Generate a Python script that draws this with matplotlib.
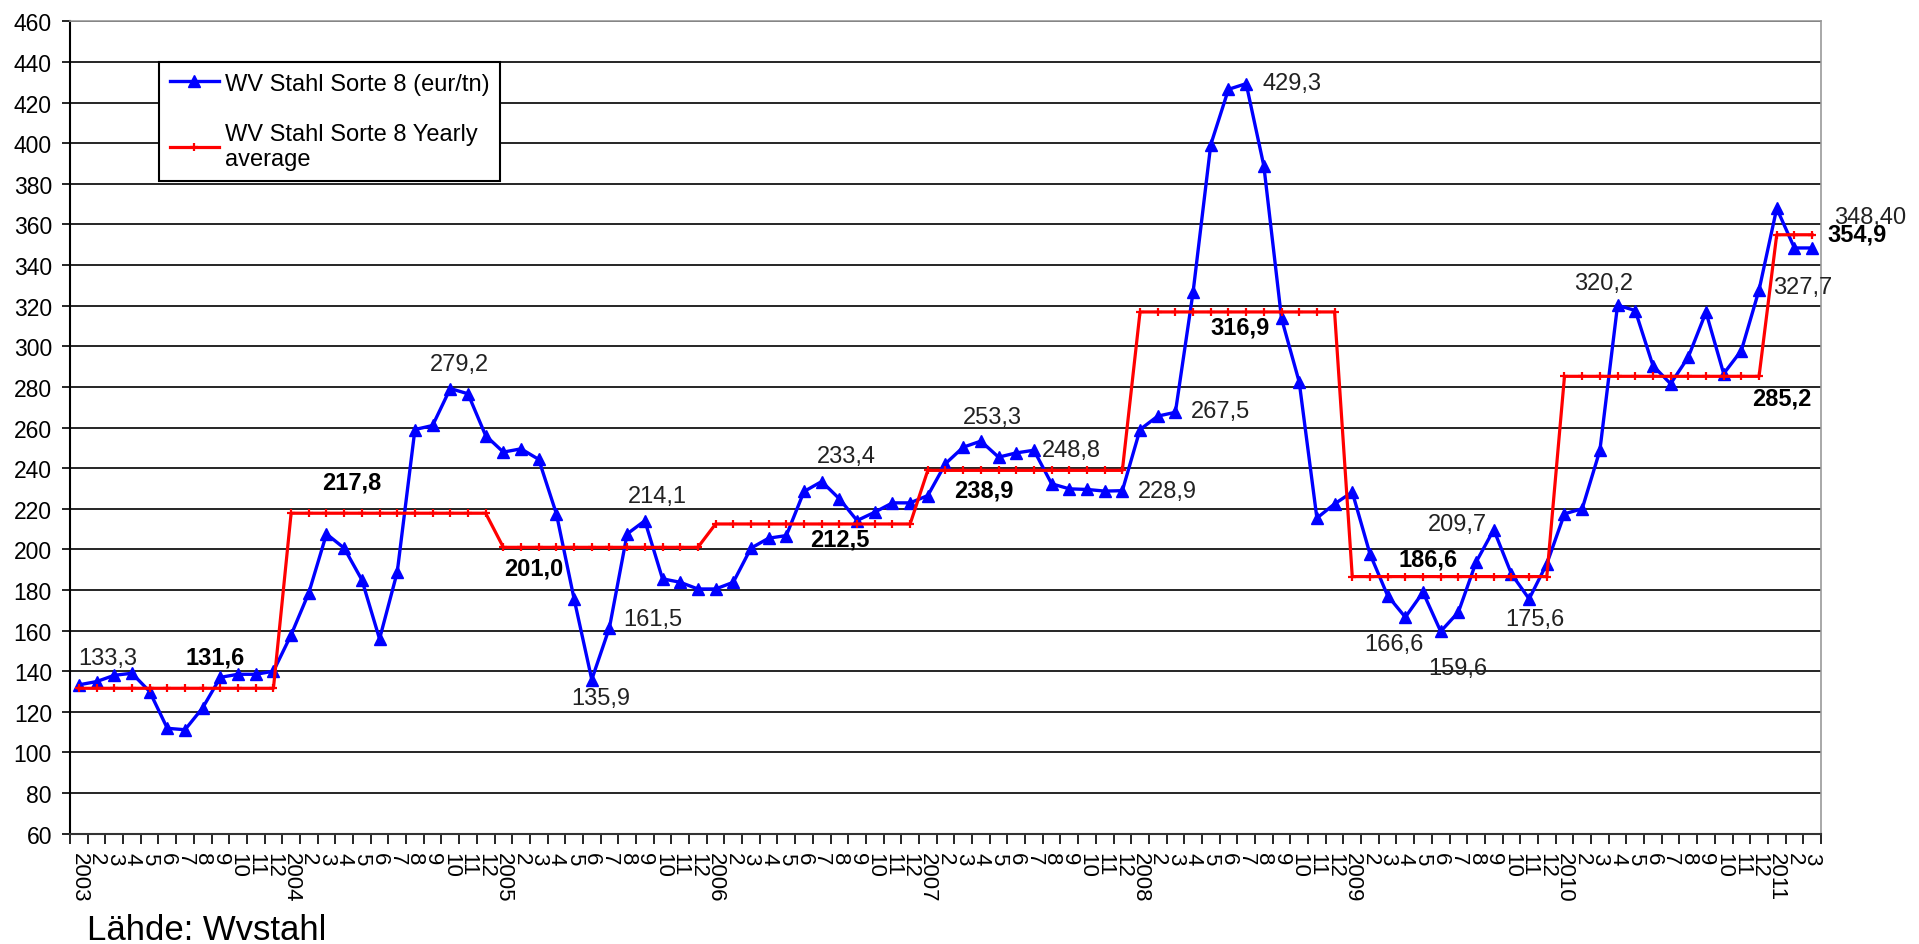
import numpy as np
import matplotlib
matplotlib.use("Agg")
import matplotlib.pyplot as plt

plt.rcParams['font.family'] = ['Liberation Sans', 'DejaVu Sans']

# monthly price, 2003-01 .. 2011-03
price = [
    133.3, 134.9, 138.0, 139.0, 130.0, 111.9, 111.2, 122.0, 137.0, 138.5, 138.5, 140.0,  # 2003
    157.9, 178.6, 207.6, 200.6, 185.0, 155.9, 188.8, 259.0, 261.0, 279.2, 276.6, 256.0,  # 2004
    247.9, 249.5, 244.3, 217.5, 175.6, 135.9, 161.5, 207.6, 214.1, 185.5, 183.8, 180.5,  # 2005
    180.5, 183.8, 200.6, 205.5, 206.8, 228.5, 233.4, 224.9, 214.2, 218.3, 222.9, 222.9,  # 2006
    226.5, 242.2, 250.3, 253.3, 245.4, 247.5, 248.8, 232.3, 229.8, 229.5, 228.7, 228.9,  # 2007
    259.0, 265.6, 267.5, 326.7, 399.3, 426.5, 429.3, 388.8, 313.7, 282.4, 215.4, 222.4,  # 2008
    228.2, 197.8, 177.2, 166.6, 178.9, 159.6, 169.1, 193.7, 209.7, 187.9, 175.6, 192.9,  # 2009
    217.5, 220.0, 248.7, 320.2, 317.6, 290.5, 281.5, 294.7, 316.8, 286.5, 297.9, 327.7,  # 2010
    367.9, 348.4, 348.4,                                                                 # 2011
]
years = [2003, 2004, 2005, 2006, 2007, 2008, 2009, 2010, 2011]
yearly_avg = [131.6, 217.8, 201.0, 212.5, 238.9, 316.9, 186.6, 285.2, 354.9]
months_in_year = [12, 12, 12, 12, 12, 12, 12, 12, 3]

# value labels on the monthly series: (index, decimals, dx px, dy px)
price_labels = [
    (0, 1, 29, 27), (21, 1, 9, 25), (29, 1, 9, -18), (30, 1, 43, 9),
    (32, 1, 13, 25), (42, 1, 25, 26), (51, 1, 12, 24), (54, 1, 37, 0),
    (59, 1, 45, 0), (62, 1, 45, 1), (66, 1, 46, 1), (75, 1, -11, -27),
    (77, 1, 17, -37), (80, 1, -36, 6), (82, 1, 6, -20), (87, 1, -14, 22),
    (95, 1, 44, 3), (98, 2, 58, 31),
]
# bold labels on the yearly average: (year position, anchor index, dx, dy)
avg_labels = [
    (0, 8, -5, 31), (1, 15, 8, 31), (2, 26, -5, -21), (3, 43, 0, -15),
    (4, 51, 3, -20), (5, 66, -6, -15), (6, 76, 5, 18), (7, 95, 23, -22),
    (8, 98, 45, 1),
]

n = len(price)
x = np.arange(n)
avg_monthly = np.repeat(yearly_avg, months_in_year)
tick_labels = []
for yr, cnt in zip(years, months_in_year):
    tick_labels += [str(yr)] + [str(m) for m in range(2, cnt + 1)]


def fmt(v, d):
    return f"{v:.{d}f}".replace('.', ',')


fig = plt.figure(figsize=(19.19, 9.45), dpi=100)
ax = fig.add_axes([0.0365, 0.1167, 0.9124, 0.8597])

ax.plot(x, price, color='#0000ff', lw=2.4, marker='^', ms=8,
        label='WV Stahl Sorte 8 (eur/tn)', zorder=3)
ax.plot(x, avg_monthly, color='#ff0000', lw=2.3, marker='+', ms=5.5, mew=1.6,
        label='WV Stahl Sorte 8 Yearly\naverage', zorder=4)

for i, d, dx, dy in price_labels:
    ax.annotate(fmt(price[i], d), (i, price[i]), xytext=(dx, dy),
                textcoords='offset pixels', ha='center', va='center',
                fontsize=17, color='#222222', zorder=6)
for k, i, dx, dy in avg_labels:
    ax.annotate(fmt(yearly_avg[k], 1), (i, avg_monthly[i]), xytext=(dx, dy),
                textcoords='offset pixels', ha='center', va='center',
                fontsize=17, fontweight='bold', color='black', zorder=6)

ax.set_xlim(-0.5, n - 0.5)
ax.set_ylim(60, 460)
ax.set_yticks(np.arange(60, 461, 20))
ax.yaxis.grid(True, color='black', lw=1.2)
ax.set_axisbelow(True)

ax.set_xticks(x)
ax.set_xticklabels(tick_labels, rotation=-90, fontsize=16)
ax.set_xticks(np.arange(-0.5, n, 1), minor=True)
ax.tick_params(axis='x', which='major', length=0, pad=13)
ax.tick_params(axis='x', which='minor', length=7, width=1.2, color='black')
ax.tick_params(axis='y', length=6, width=1.2, pad=7, labelsize=16.5)

ax.spines['left'].set_color('black')
ax.spines['left'].set_linewidth(1.5)
ax.spines['bottom'].set_color('#333333')
ax.spines['bottom'].set_linewidth(1.5)
for s in ('top', 'right'):
    ax.spines[s].set_color('#999999')
    ax.spines[s].set_linewidth(1.2)

leg = ax.legend(loc='upper left', bbox_to_anchor=(159 / 1919, 1 - 63 / 945),
                bbox_transform=fig.transFigure, fontsize=17, frameon=True,
                fancybox=False, borderpad=0.45, handlelength=2.1,
                handletextpad=0.25, labelspacing=1.2, borderaxespad=0)
leg.get_frame().set_edgecolor('black')
leg.get_frame().set_linewidth(1.5)
leg.get_frame().set_alpha(1)

fig.text(87 / 1919, 5 / 945, 'Lähde: Wvstahl', fontsize=25,
         ha='left', va='baseline')

fig.savefig('out.png', dpi=100)
